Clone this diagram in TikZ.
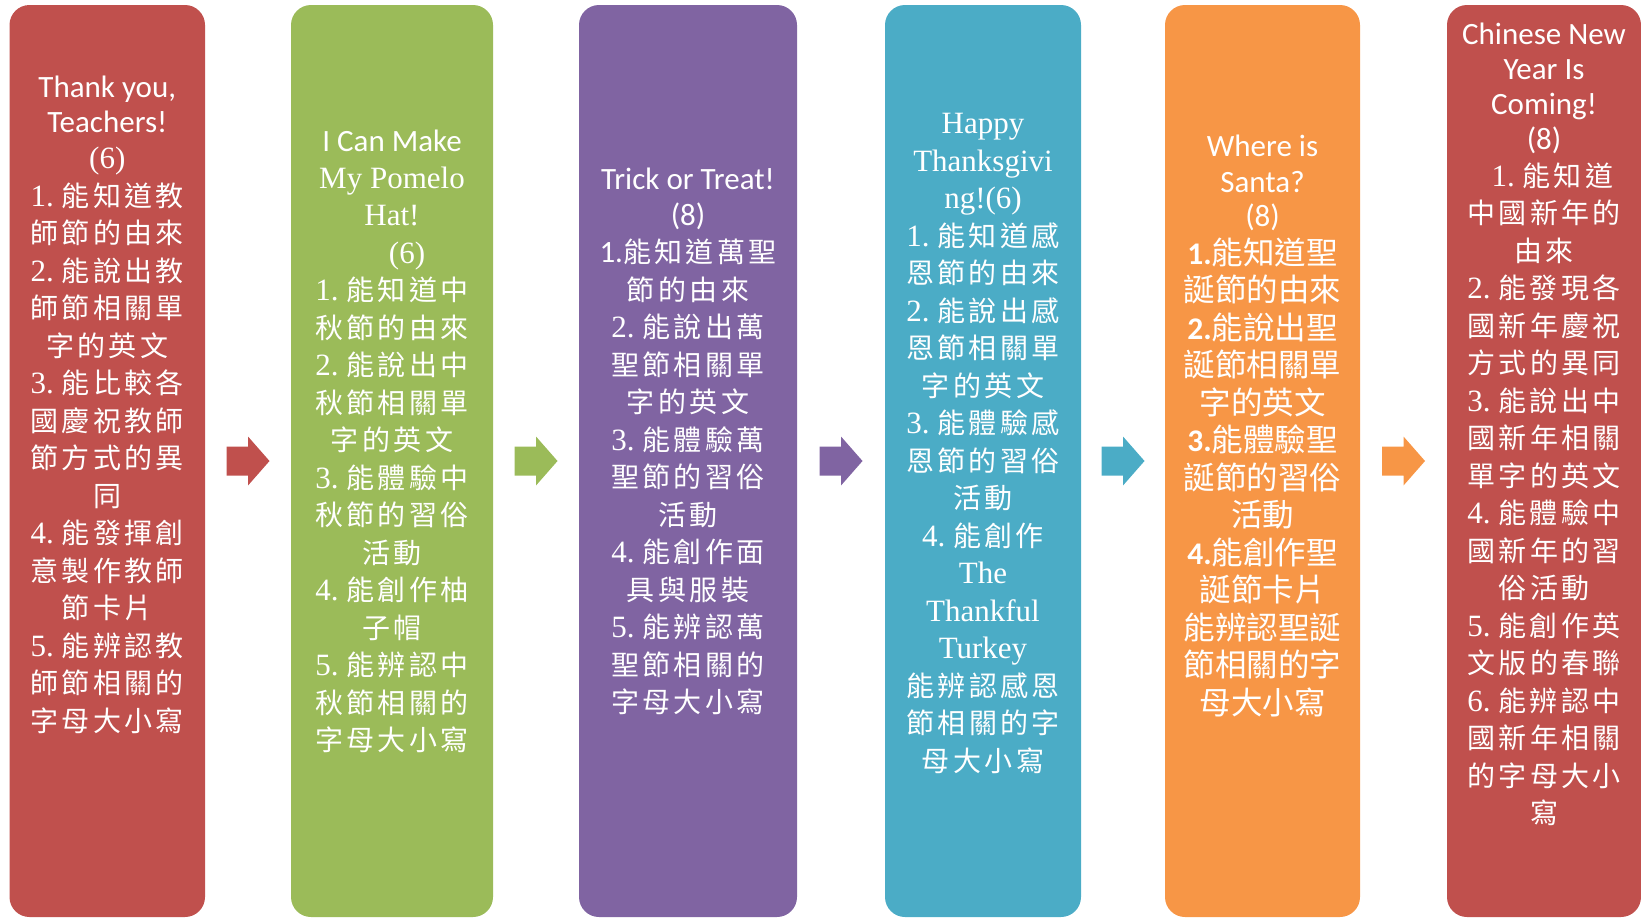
\documentclass[tikz,border=0pt]{standalone}
\usepackage{fontspec}
\setmainfont{Liberation Serif}
\newfontfamily\cjkk[LetterSpace=12]{Noto Sans CJK TC}
\newfontfamily\cjks{Noto Sans CJK TC}
\newfontfamily\calb{Carlito}
\usetikzlibrary{calc}
\definecolor{cred}{HTML}{C0504D}
\definecolor{cgreen}{HTML}{9BBB59}
\definecolor{cpurple}{HTML}{8064A2}
\definecolor{cteal}{HTML}{4BACC6}
\definecolor{corange}{HTML}{F79646}
\newcommand\ka{\cjkk\fontsize{28}{37.5}\selectfont}
\newcommand\ks{\cjks\fontsize{31.5}{37.5}\selectfont}
\newcommand\en[1]{{\calb\fontsize{31}{37.5}\selectfont #1}}
\newcommand\kl[1]{{\rmfamily\fontsize{31}{37.5}\selectfont #1}}
\newcommand\nb[1]{{\rmfamily\fontsize{31}{37.5}\selectfont #1\ }}
\newcommand\bn[1]{{\calb\bfseries\fontsize{31.5}{37.5}\selectfont #1}}
\tikzset{
  box/.style={rectangle, rounded corners=20pt, inner sep=0pt, draw=none, minimum height=912pt},
  txt/.style={align=center, text=white, inner sep=0pt, font=\ka},
  txts/.style={align=center, text=white, inner sep=0pt, font=\ks},
}
\begin{document}
\begin{tikzpicture}[x=1pt,y=-1pt]
\useasboundingbox (0,0) rectangle (1641,918);
% boxes
\node[box, fill=cred, minimum width=195.5pt] (b1) at (107.25,461) {};
\node[box, fill=cgreen, minimum width=202pt] (b2) at (392,461) {};
\node[box, fill=cpurple, minimum width=218pt] (b3) at (688,461) {};
\node[box, fill=cteal, minimum width=196pt] (b4) at (983,461) {};
\node[box, fill=corange, minimum width=195pt] (b5) at (1262.5,461) {};
\node[box, fill=cred, minimum width=194pt] (b6) at (1544,461) {};
% arrows
\coordinate (a1) at ($(b1.east)!0.5!(b2.west)$);
\coordinate (a2) at ($(b2.east)!0.5!(b3.west)$);
\coordinate (a3) at ($(b3.east)!0.5!(b4.west)$);
\coordinate (a4) at ($(b4.east)!0.5!(b5.west)$);
\coordinate (a5) at ($(b5.east)!0.5!(b6.west)$);
\foreach \a/\c in {a1/cred,a2/cgreen,a3/cpurple,a4/cteal,a5/corange}{
  \fill[\c, shift={(\a)}] (-21.5,-14.5) -- (0,-14.5) -- (0,-24.5) -- (21.5,0) -- (0,24.5) -- (0,14.5) -- (-21.5,14.5) -- cycle;
}
% texts
\node[txt] (t1) at (107.25,405) {\en{Thank you,}\\[-3pt]
\en{Teachers!}\\[-1pt]
\kl{(6)}\\
\nb{1.}能知道教\\
師節的由來\\
\nb{2.}能說出教\\
師節相關單\\
字的英文\\
\nb{3.}能比較各\\
國慶祝教師\\
節方式的異\\
同\\
\nb{4.}能發揮創\\
意製作教師\\
節卡片\\
\nb{5.}能辨認教\\
師節相關的\\
字母大小寫};
\node[txt] (t2) at (392,441.5) {\en{I Can Make}\\[-1pt]
\kl{My Pomelo}\\
\kl{Hat!}\\
\kl{\hspace*{30pt}(6)}\\
\nb{1.}能知道中\\
秋節的由來\\
\nb{2.}能說出中\\
秋節相關單\\
字的英文\\
\nb{3.}能體驗中\\
秋節的習俗\\
活動\\
\nb{4.}能創作柚\\
子帽\\
\nb{5.}能辨認中\\
秋節相關的\\
字母大小寫};
\node[txt] (t3) at (688,441.5) {\en{Trick or Treat!}\\[-2pt]
\en{(8)}\\
\en{1.}能知道萬聖\\
節的由來\\
\nb{2.}能說出萬\\
聖節相關單\\
字的英文\\
\nb{3.}能體驗萬\\
聖節的習俗\\
活動\\
\nb{4.}能創作面\\
具與服裝\\
\nb{5.}能辨認萬\\
聖節相關的\\
字母大小寫};
\node[txt] (t4) at (983,443.5) {\kl{Happy}\\
\kl{Thanksgivi}\\
\kl{ng!(6)}\\
\nb{1.}能知道感\\
恩節的由來\\
\nb{2.}能說出感\\
恩節相關單\\
字的英文\\
\nb{3.}能體驗感\\
恩節的習俗\\
活動\\
\nb{4.}能創作\\
\kl{The}\\
\kl{Thankful}\\
\kl{Turkey}\\
能辨認感恩\\
節相關的字\\
母大小寫};
\node[txts] (t5) at (1262.5,426) {\en{Where is}\\[-2pt]
\en{Santa?}\\[-3pt]
\en{(8)}\\
\bn{1.}能知道聖\\
誕節的由來\\
\bn{2.}能說出聖\\
誕節相關單\\
字的英文\\
\bn{3.}能體驗聖\\
誕節的習俗\\
活動\\
\bn{4.}能創作聖\\
誕節卡片\\
能辨認聖誕\\
節相關的字\\
母大小寫};
\node[txt] (t6) at (1544,424.5) {\en{Chinese New}\\[-2.5pt]
\en{Year Is}\\[-2.5pt]
\en{Coming!}\\[-2.5pt]
\en{(8)}\\[-1pt]
\hspace*{17pt}\nb{1.}能知道\\
中國新年的\\
由來\\
\nb{2.}能發現各\\
國新年慶祝\\
方式的異同\\
\nb{3.}能說出中\\
國新年相關\\
單字的英文\\
\nb{4.}能體驗中\\
國新年的習\\
俗活動\\
\nb{5.}能創作英\\
文版的春聯\\
\nb{6.}能辨認中\\
國新年相關\\
的字母大小\\
寫};
\end{tikzpicture}
\end{document}
